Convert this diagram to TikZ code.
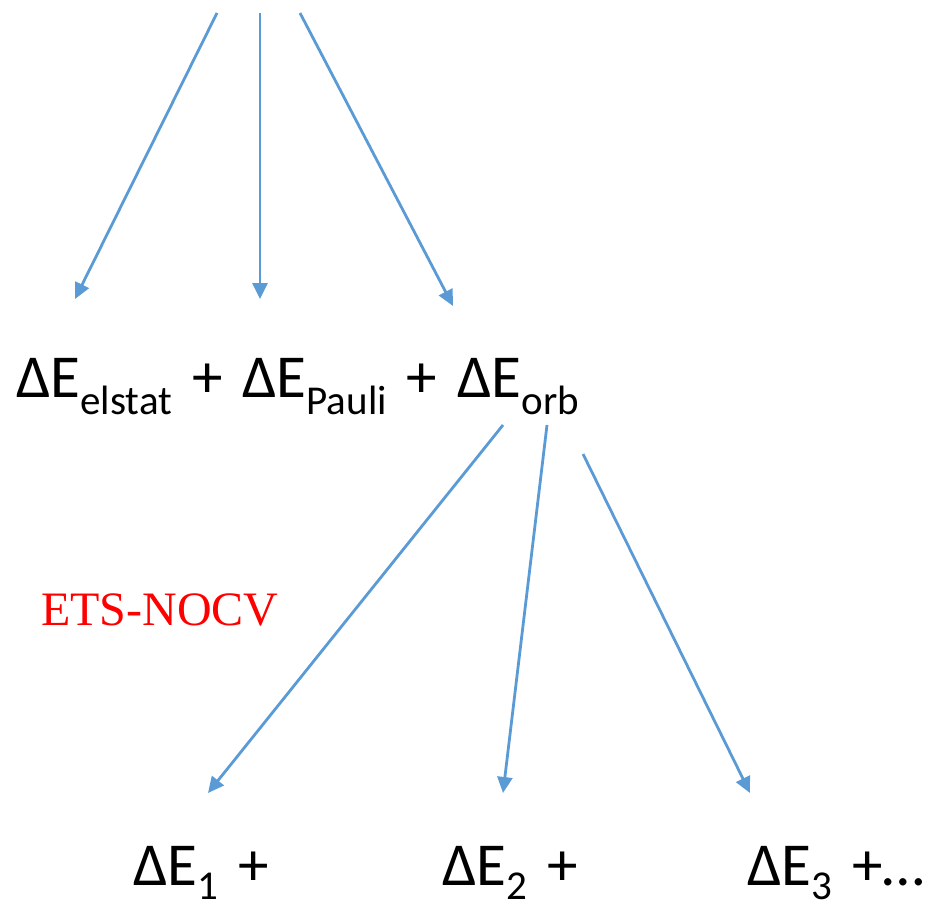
\documentclass[tikz,border=0pt]{standalone}
\usepackage{fontspec}
\setmainfont{Carlito}
\newfontfamily\timesfont{Liberation Serif}
\usetikzlibrary{arrows.meta}
\definecolor{azul}{RGB}{91,155,213}
\newcommand{\sub}[2][17pt]{\raisebox{-#1}{\fontsize{41}{41}\selectfont #2}}
\newcommand{\anchoesp}{\spaceskip 20pt\relax}
\begin{document}
\begin{tikzpicture}[x=1pt, y=-1pt,
    flecha/.style={azul, line width=2.8pt, -{Triangle[length=16pt, width=15pt]}},
    termino/.style={anchor=base west, inner sep=0pt, font=\fontsize{61}{61}\selectfont\anchoesp}]
    \useasboundingbox (0,0) rectangle (932,904);

    % Descomposicion EDA
    \node[termino] (eda) at (16,397) {ΔE\sub{elstat} + ΔE\sub{Pauli} + ΔE\sub{orb}};

    % Flechas superiores
    \coordinate (a1) at (217,13);
    \coordinate (a2) at (260,13);
    \coordinate (a3) at (300,13);
    \coordinate (b1) at (75,299);
    \coordinate (b2) at (260,299);
    \coordinate (b3) at (453,306);
    \foreach \i in {1,2,3} \draw[flecha] (a\i) -- (b\i);

    % Etiqueta ETS-NOCV
    \node[anchor=base west, inner sep=0pt, red, font=\timesfont\fontsize{48}{48}\selectfont] (ets) at (41,625) {ETS-NOCV};

    % Flechas inferiores
    \coordinate (c1) at (503,425);
    \coordinate (c2) at (547,425);
    \coordinate (c3) at (583,454);
    \coordinate (d1) at (208,793);
    \coordinate (d2) at (503,793);
    \coordinate (d3) at (750,793);
    \foreach \i in {1,2,3} \draw[flecha] (c\i) -- (d\i);

    % Terminos NOCV
    \node[termino] (e1) at (133,885) {ΔE\sub[14pt]{1} +};
    \node[termino] (e2) at (442,885) {ΔE\sub[14pt]{2} +};
    \node[termino] (e3) at (747,885) {ΔE\sub[14pt]{3} +…};
\end{tikzpicture}
\end{document}
